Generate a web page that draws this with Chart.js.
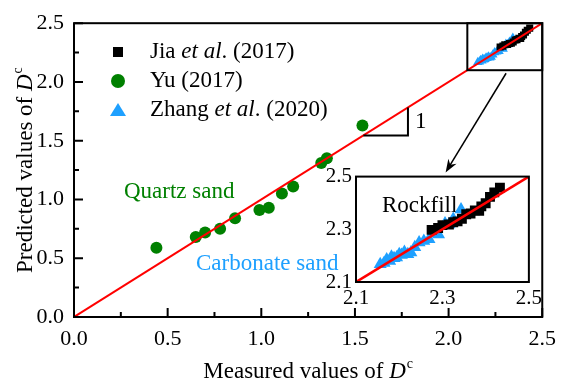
<!DOCTYPE html>
<html>
<head>
<meta charset="utf-8">
<script src="https://cdn.jsdelivr.net/npm/chart.js@4"></script>
<style>
    body { margin: 0; background: #fff; }
    #wrap { position: relative; width: 565px; height: 388px; }
    #mainChart { position: absolute; left: 0; top: 0; }
    #insetChart { position: absolute; left: 316px; top: 160px; }
</style>
</head>
<body>
<div id="wrap">
    <canvas id="mainChart" width="565" height="388"></canvas>
    <canvas id="insetChart" width="230" height="150"></canvas>
</div>
<script>
// ===== DATA =====
const yuX = [0.44, 0.65, 0.70, 0.78, 0.86, 0.99, 1.04, 1.11, 1.17, 1.32, 1.35, 1.54];
const yuY = [0.59, 0.68, 0.72, 0.75, 0.84, 0.91, 0.93, 1.05, 1.11, 1.31, 1.35, 1.63];

const jiaX = [2.275, 2.29, 2.30, 2.315, 2.325, 2.335, 2.345, 2.355, 2.365, 2.375, 2.385, 2.39, 2.40, 2.41, 2.42, 2.433];
const jiaY = [2.298, 2.305, 2.316, 2.318, 2.327, 2.330, 2.340, 2.357, 2.360, 2.372, 2.370, 2.387, 2.399, 2.423, 2.440, 2.458];

const zhangX = [2.156, 2.165, 2.171, 2.178, 2.182, 2.188, 2.194, 2.200, 2.205, 2.212, 2.220, 2.227, 2.236, 2.246, 2.257, 2.269, 2.280, 2.291, 2.306, 2.315, 2.325, 2.343];
const zhangY = [2.167, 2.172, 2.185, 2.180, 2.196, 2.190, 2.193, 2.205, 2.202, 2.214, 2.205, 2.212, 2.232, 2.250, 2.256, 2.262, 2.286, 2.280, 2.322, 2.318, 2.339, 2.375];

const lineX = [0, 2.5];
const majorTicks = [0, 0.5, 1.0, 1.5, 2.0, 2.5];
const minorTicks = [0.25, 0.75, 1.25, 1.75, 2.25];
const insetTicks = [2.1, 2.3, 2.5];

const GREEN = '#008000';
const BLUE = '#1EA0FF';
const RED = '#FF0000';
const FONT = "'Liberation Serif', 'Times New Roman', serif";
const TXT = 23;

const toPoints = (xs, ys) => xs.map((x, i) => ({ x: x, y: ys[i] }));

Chart.defaults.color = '#000';
Chart.defaults.font.family = FONT;

function makeDatasets(sizes) {
    return [
        {
            label: 'Reference',
            type: 'line',
            data: toPoints(lineX, lineX),
            borderColor: RED,
            borderWidth: sizes.line,
            pointRadius: 0,
            order: 0
        },
        {
            label: 'Yu (2017)',
            data: toPoints(yuX, yuY),
            pointStyle: 'circle',
            pointRadius: 6,
            backgroundColor: GREEN,
            borderColor: GREEN,
            borderWidth: 0,
            order: 2
        },
        {
            label: 'Jia et al. (2017)',
            data: toPoints(jiaX, jiaY),
            pointStyle: 'rect',
            pointRadius: sizes.rect,
            backgroundColor: '#000',
            borderColor: '#000',
            borderWidth: 0,
            order: 1
        },
        {
            label: 'Zhang et al. (2020)',
            data: toPoints(zhangX, zhangY),
            pointStyle: 'triangle',
            pointRadius: sizes.tri,
            backgroundColor: BLUE,
            borderColor: BLUE,
            borderWidth: 0,
            order: 3
        }
    ];
}

// draw "prefix D^c" with italic D and a small superscript
function drawDc(ctx, prefix, x, y, size) {
    const normal = size + 'px ' + FONT;
    const italic = 'italic ' + size + 'px ' + FONT;
    const small = Math.round(size * 0.62) + 'px ' + FONT;
    ctx.font = normal;
    const w1 = ctx.measureText(prefix).width;
    ctx.font = italic;
    const w2 = ctx.measureText('D').width;
    ctx.font = small;
    const w3 = ctx.measureText('c').width;
    let cx = x - (w1 + w2 + w3 + 1) / 2;
    ctx.textAlign = 'left';
    ctx.textBaseline = 'alphabetic';
    ctx.font = normal;
    ctx.fillText(prefix, cx, y);
    cx += w1;
    ctx.font = italic;
    ctx.fillText('D', cx, y);
    cx += w2 + 1;
    ctx.font = small;
    ctx.fillText('c', cx, y - size * 0.42);
}

// text made of pieces, some italic
function drawRich(ctx, parts, x, y, size) {
    let cx = x;
    ctx.textAlign = 'left';
    ctx.textBaseline = 'middle';
    parts.forEach(p => {
        ctx.font = (p.italic ? 'italic ' : '') + size + 'px ' + FONT;
        ctx.fillText(p.t, cx, y);
        cx += ctx.measureText(p.t).width;
    });
}

// ===== MAIN CHART DECORATIONS =====
const mainDecor = {
    id: 'mainDecor',
    afterDraw(chart) {
        const ctx = chart.ctx;
        const xs = chart.scales.x, ys = chart.scales.y;
        const a = chart.chartArea;
        ctx.save();
        ctx.strokeStyle = '#000';
        ctx.fillStyle = '#000';

        // frame
        ctx.lineWidth = 2;
        ctx.strokeRect(a.left, a.top, a.right - a.left, a.bottom - a.top);

        // inward ticks
        ctx.beginPath();
        majorTicks.forEach(v => {
            const px = xs.getPixelForValue(v);
            ctx.moveTo(px, a.bottom); ctx.lineTo(px, a.bottom - 9);
            const py = ys.getPixelForValue(v);
            ctx.moveTo(a.left, py); ctx.lineTo(a.left + 9, py);
        });
        minorTicks.forEach(v => {
            const px = xs.getPixelForValue(v);
            ctx.moveTo(px, a.bottom); ctx.lineTo(px, a.bottom - 5);
            const py = ys.getPixelForValue(v);
            ctx.moveTo(a.left, py); ctx.lineTo(a.left + 5, py);
        });
        ctx.stroke();

        // zoom box around the top right cluster
        const bx0 = xs.getPixelForValue(2.1), by0 = ys.getPixelForValue(2.1);
        const bx1 = xs.getPixelForValue(2.5), by1 = ys.getPixelForValue(2.5);
        ctx.strokeRect(bx0, by1, bx1 - bx0, by0 - by1);

        // slope triangle
        const t0 = xs.getPixelForValue(1.545), t1 = xs.getPixelForValue(1.783);
        const tyb = ys.getPixelForValue(1.545), tyt = ys.getPixelForValue(1.783);
        ctx.beginPath();
        ctx.moveTo(t0, tyb); ctx.lineTo(t1, tyb); ctx.lineTo(t1, tyt);
        ctx.stroke();
        ctx.font = TXT + 'px ' + FONT;
        ctx.textAlign = 'left';
        ctx.textBaseline = 'middle';
        ctx.fillText('1', t1 + 7, (tyb + tyt) / 2 + 1);

        // arrow to the inset
        const ax0 = xs.getPixelForValue(2.307), ay0 = ys.getPixelForValue(2.074);
        const ax1 = xs.getPixelForValue(1.984), ay1 = ys.getPixelForValue(1.23);
        const ang = Math.atan2(ay1 - ay0, ax1 - ax0);
        ctx.lineWidth = 1.5;
        ctx.beginPath();
        ctx.moveTo(ax0, ay0); ctx.lineTo(ax1 - 8 * Math.cos(ang), ay1 - 8 * Math.sin(ang));
        ctx.stroke();
        ctx.beginPath();
        ctx.moveTo(ax1, ay1);
        ctx.lineTo(ax1 - 14 * Math.cos(ang - 0.35), ay1 - 14 * Math.sin(ang - 0.35));
        ctx.lineTo(ax1 - 9 * Math.cos(ang), ay1 - 9 * Math.sin(ang));
        ctx.lineTo(ax1 - 14 * Math.cos(ang + 0.35), ay1 - 14 * Math.sin(ang + 0.35));
        ctx.closePath();
        ctx.fill();

        // legend
        const lx = 118, tx = 150;
        ctx.fillStyle = '#000';
        ctx.fillRect(lx - 5, 52 - 5, 10, 10);
        drawRich(ctx, [{ t: 'Jia ' }, { t: 'et al', italic: true }, { t: '. (2017)' }], tx, 52, TXT);
        ctx.fillStyle = GREEN;
        ctx.beginPath(); ctx.arc(lx, 81, 7, 0, Math.PI * 2); ctx.fill();
        ctx.fillStyle = '#000';
        drawRich(ctx, [{ t: 'Yu (2017)' }], tx, 81, TXT);
        ctx.fillStyle = BLUE;
        ctx.beginPath();
        ctx.moveTo(lx, 103); ctx.lineTo(lx + 8, 116); ctx.lineTo(lx - 8, 116);
        ctx.closePath(); ctx.fill();
        ctx.fillStyle = '#000';
        drawRich(ctx, [{ t: 'Zhang ' }, { t: 'et al', italic: true }, { t: '. (2020)' }], tx, 110, TXT);

        // annotations
        ctx.fillStyle = GREEN;
        drawRich(ctx, [{ t: 'Quartz sand' }], 124, 192, TXT);
        ctx.fillStyle = BLUE;
        drawRich(ctx, [{ t: 'Carbonate sand' }], 196, 264, TXT);

        // axis titles
        ctx.fillStyle = '#000';
        drawDc(ctx, 'Measured values of ', (a.left + a.right) / 2, 378, TXT);
        ctx.translate(32, (a.top + a.bottom) / 2);
        ctx.rotate(-Math.PI / 2);
        drawDc(ctx, 'Predicted values of ', 0, 0, TXT);
        ctx.restore();
    }
};

new Chart(document.getElementById('mainChart'), {
    type: 'scatter',
    data: { datasets: makeDatasets({ rect: 5, tri: 5.5, line: 2 }) },
    options: {
        responsive: false,
        animation: false,
        layout: { padding: { top: 12, right: 16, left: 0, bottom: 0 } },
        plugins: { legend: { display: false }, tooltip: { enabled: false } },
        scales: {
            x: {
                type: 'linear',
                min: 0, max: 2.5,
                grid: { display: false, drawTicks: false },
                border: { display: false },
                ticks: {
                    stepSize: 0.5,
                    padding: 9,
                    font: { size: 22, family: FONT },
                    callback: v => v.toFixed(1)
                },
                afterFit: s => { s.height = 71; }
            },
            y: {
                type: 'linear',
                min: 0, max: 2.5,
                grid: { display: false, drawTicks: false },
                border: { display: false },
                ticks: {
                    stepSize: 0.5,
                    padding: 10,
                    font: { size: 22, family: FONT },
                    callback: v => v.toFixed(1)
                },
                afterFit: s => { s.width = 74; }
            }
        }
    },
    plugins: [mainDecor]
});

// ===== INSET =====
const insetDecor = {
    id: 'insetDecor',
    beforeDatasetsDraw(chart) {
        const ctx = chart.ctx;
        const a = chart.chartArea;
        ctx.save();
        ctx.fillStyle = '#fff';
        ctx.fillRect(a.left, a.top, a.right - a.left, a.bottom - a.top);
        ctx.fillStyle = '#000';
        drawRich(ctx, [{ t: 'Rockfill' }], a.left + 26, a.top + 29, TXT);
        ctx.restore();
    },
    afterDraw(chart) {
        const ctx = chart.ctx;
        const a = chart.chartArea;
        ctx.save();
        ctx.strokeStyle = '#000';
        ctx.lineWidth = 2;
        ctx.strokeRect(a.left, a.top, a.right - a.left, a.bottom - a.top);
        ctx.restore();
    }
};

new Chart(document.getElementById('insetChart'), {
    type: 'scatter',
    data: { datasets: makeDatasets({ rect: 7, tri: 7.5, line: 2.6 }) },
    options: {
        responsive: false,
        animation: false,
        layout: { padding: { top: 10, right: 13, left: 0, bottom: 0 } },
        plugins: { legend: { display: false }, tooltip: { enabled: false } },
        scales: {
            x: {
                type: 'linear',
                min: 2.1, max: 2.5,
                grid: { display: false, drawTicks: false },
                border: { display: false },
                afterBuildTicks: s => { s.ticks = insetTicks.map(v => ({ value: v })); },
                ticks: {
                    padding: 4,
                    font: { size: 21, family: FONT },
                    callback: v => v.toFixed(1)
                },
                afterFit: s => { s.height = 28; }
            },
            y: {
                type: 'linear',
                min: 2.1, max: 2.5,
                grid: { display: false, drawTicks: false },
                border: { display: false },
                afterBuildTicks: s => { s.ticks = insetTicks.map(v => ({ value: v })); },
                ticks: {
                    padding: 4,
                    font: { size: 21, family: FONT },
                    callback: v => v.toFixed(1)
                },
                afterFit: s => { s.width = 40; }
            }
        }
    },
    plugins: [insetDecor]
});
</script>
</body>
</html>
